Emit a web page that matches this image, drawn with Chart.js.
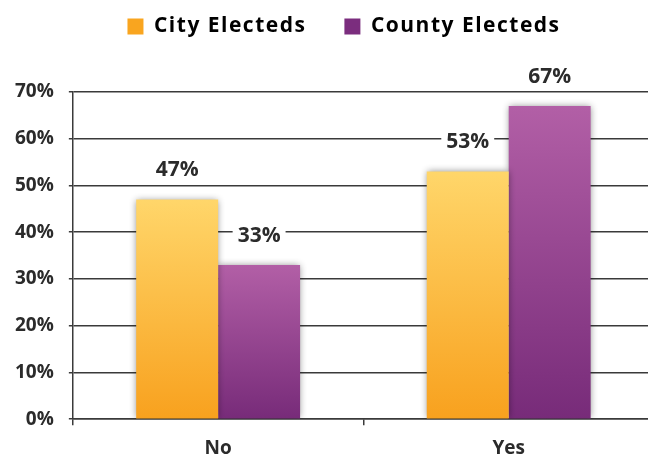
<!DOCTYPE html>
<html>
<head>
<meta charset="utf-8">
<script src="https://cdn.jsdelivr.net/npm/chart.js@4/dist/chart.umd.min.js"></script>
<style>
    html, body { margin: 0; padding: 0; background: #fff; overflow: hidden; }
    #wrap { position: relative; width: 656px; height: 472px; }
</style>
</head>
<body>
<div id="wrap"><canvas id="chart"></canvas></div>
<script>
const categories = ['No', 'Yes'];
const cityValues = [47, 53];
const countyValues = [33, 67];
const seriesNames = ['City Electeds', 'County Electeds'];
const yTicks = [0, 10, 20, 30, 40, 50, 60, 70];

const FONT = '"Open Sans", "DejaVu Sans", sans-serif';

function barGradient(top, bottom) {
    return function (context) {
        const chart = context.chart;
        const area = chart.chartArea;
        if (!area || context.type !== 'data') return bottom;
        const yScale = chart.scales.y;
        const yTop = yScale.getPixelForValue(context.parsed ? context.parsed.y : context.raw);
        const g = chart.ctx.createLinearGradient(0, yTop, 0, area.bottom);
        g.addColorStop(0, top);
        g.addColorStop(1, bottom);
        return g;
    };
}

// soft grey shadow around the bars
const barShadow = {
    id: 'barShadow',
    beforeDatasetsDraw(chart) {
        const ctx = chart.ctx;
        ctx.save();
        ctx.shadowColor = 'rgba(0, 0, 0, 0.45)';
        ctx.shadowBlur = 7;
        ctx.shadowOffsetX = 0;
        ctx.shadowOffsetY = 0;
    },
    afterDatasetsDraw(chart) {
        chart.ctx.restore();
    }
};

// value labels sitting on a white patch that breaks the grid line
const valueLabels = {
    id: 'valueLabels',
    afterDatasetsDraw(chart) {
        const ctx = chart.ctx;
        ctx.save();
        ctx.font = 'bold 21px ' + FONT;
        ctx.textAlign = 'center';
        ctx.textBaseline = 'middle';
        chart.data.datasets.forEach((ds, i) => {
            chart.getDatasetMeta(i).data.forEach((bar, j) => {
                const text = ds.data[j] + '%';
                const w = ctx.measureText(text).width;
                const cy = bar.y - 30;
                ctx.fillStyle = '#fff';
                ctx.fillRect(bar.x - w / 2 - 5, cy - 11, w + 10, 22);
                ctx.fillStyle = '#2b2b2b';
                ctx.fillText(text, bar.x, cy + 1);
            });
        });
        ctx.restore();
    }
};

// legend: wider gap between items, tracked-out text, nudged into place
const LEGEND_PAD = 38;
const legendTweak = {
    id: 'legendTweak',
    beforeInit(chart) {
        const legend = chart.legend;
        const fit = legend.fit;
        const draw = legend.draw;
        legend.fit = function () {
            const ctx = chart.ctx;
            ctx.save();
            ctx.letterSpacing = '1.5px';
            fit.call(legend);
            ctx.restore();
            this.height += 45 - (LEGEND_PAD - 10);
        };
        legend.draw = function () {
            const ctx = chart.ctx;
            ctx.save();
            ctx.letterSpacing = '1.5px';
            ctx.translate(17, -(LEGEND_PAD - 10));
            draw.call(legend);
            ctx.restore();
        };
    }
};

new Chart(document.getElementById('chart'), {
    type: 'bar',
    data: {
        labels: categories,
        datasets: [
            {
                label: seriesNames[0],
                data: cityValues,
                backgroundColor: barGradient('#ffd66a', '#f8a11e'),
                borderWidth: 0
            },
            {
                label: seriesNames[1],
                data: countyValues,
                backgroundColor: barGradient('#b25fa6', '#772b79'),
                borderWidth: 0
            }
        ]
    },
    options: {
        responsive: true,
        maintainAspectRatio: false,
        animation: false,
        categoryPercentage: 0.564,
        barPercentage: 1,
        layout: { padding: { left: 0, right: 2, top: 6, bottom: 0 } },
        plugins: {
            legend: {
                position: 'top',
                labels: {
                    color: '#2b2b2b',
                    font: { family: FONT, size: 21, weight: 'bold' },
                    boxWidth: 16,
                    boxHeight: 16,
                    padding: LEGEND_PAD,
                    generateLabels(chart) {
                        return seriesNames.map((name, i) => ({
                            text: name,
                            fillStyle: ['#f9a51f', '#7b2d7e'][i],
                            strokeStyle: 'transparent',
                            lineWidth: 0,
                            datasetIndex: i
                        }));
                    }
                }
            },
            tooltip: { enabled: false }
        },
        scales: {
            x: {
                grid: {
                    offset: true,
                    drawOnChartArea: false,
                    color: '#3a3a3a',
                    lineWidth: 1.5,
                    tickLength: 6
                },
                border: { color: '#3a3a3a', width: 1.5 },
                ticks: {
                    color: '#2b2b2b',
                    font: { family: FONT, size: 19, weight: 'bold' },
                    padding: 12
                }
            },
            y: {
                min: 0,
                max: 70,
                afterBuildTicks(axis) {
                    axis.ticks = yTicks.map(v => ({ value: v }));
                },
                grid: {
                    color: '#3a3a3a',
                    lineWidth: 1.5,
                    tickLength: 4
                },
                border: { color: '#3a3a3a', width: 1.5 },
                ticks: {
                    color: '#2b2b2b',
                    font: { family: FONT, size: 19, weight: 'bold' },
                    padding: 15,
                    callback: v => v + '%'
                }
            }
        }
    },
    plugins: [barShadow, valueLabels, legendTweak]
});
</script>
</body>
</html>
